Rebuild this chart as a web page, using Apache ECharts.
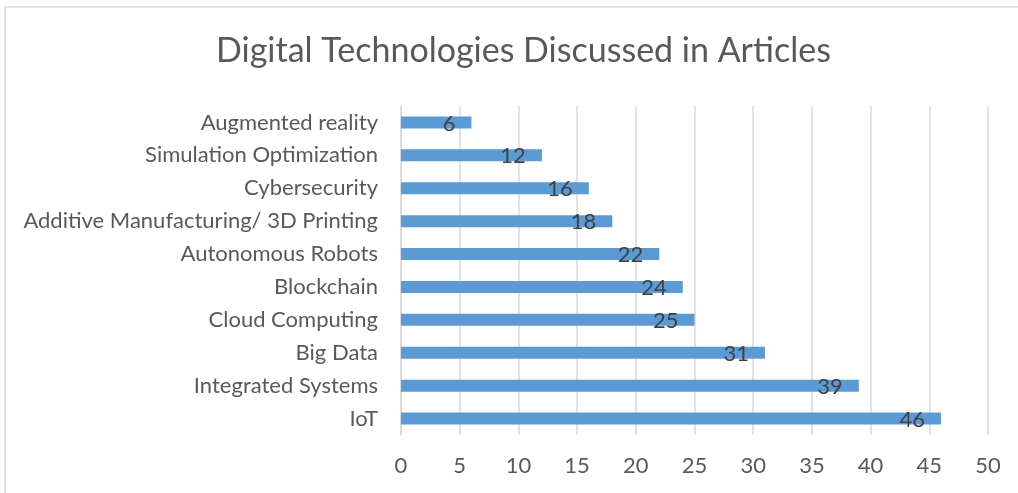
<!DOCTYPE html>
<html>
<head>
<meta charset="utf-8">
<script src="https://cdn.jsdelivr.net/npm/echarts@6/dist/echarts.min.js"></script>
<style>html,body{margin:0;padding:0;background:#fff}#c{width:1018px;height:493px}</style>
</head>
<body>
<div id="c"></div>
<script>
var categories = ["IoT","Integrated Systems","Big Data","Cloud Computing","Blockchain","Autonomous Robots","Additive Manufacturing/ 3D Printing","Cybersecurity","Simulation Optimization","Augmented reality"];
var values = [46,39,31,25,24,22,18,16,12,6];
var xTicks = {min:0, max:50, interval:5};
var FONT = "Lato, 'Open Sans', sans-serif";
var chart = echarts.init(document.getElementById('c'));
chart.setOption({
  animation:false,
  backgroundColor:'#fff',
  title:{text:'Digital Technologies Discussed in Articles', left:211, top:29,
    textStyle:{fontFamily:FONT, fontSize:34, fontWeight:'normal', color:'#595959'}},
  graphic:[{type:'rect', shape:{x:5,y:7,width:1040,height:600}, style:{fill:'none', stroke:'#d9d9d9', lineWidth:1.5}, silent:true}],
  grid:{left:401, right:30, top:106, bottom:58, containLabel:false},
  xAxis:{type:'value', min:xTicks.min, max:xTicks.max, interval:xTicks.interval,
    axisLine:{show:false}, axisTick:{show:false},
    splitLine:{lineStyle:{color:'#d9d9d9', width:1.5}},
    axisLabel:{fontFamily:FONT, fontSize:22, color:'#595959', margin:20}},
  yAxis:{type:'category', data:categories,
    axisLine:{show:true, lineStyle:{color:'#d9d9d9', width:1.5}}, axisTick:{show:false},
    axisLabel:{fontFamily:FONT, fontSize:22, color:'#595959', margin:23}},
  series:[{type:'bar', data:values, barWidth:12, itemStyle:{color:'#5B9BD5'},
    label:{show:true, position:'insideRight', distance:16, offset:[0,1], fontFamily:FONT, fontSize:22, color:'#404040'}}]
});
</script>
</body>
</html>
